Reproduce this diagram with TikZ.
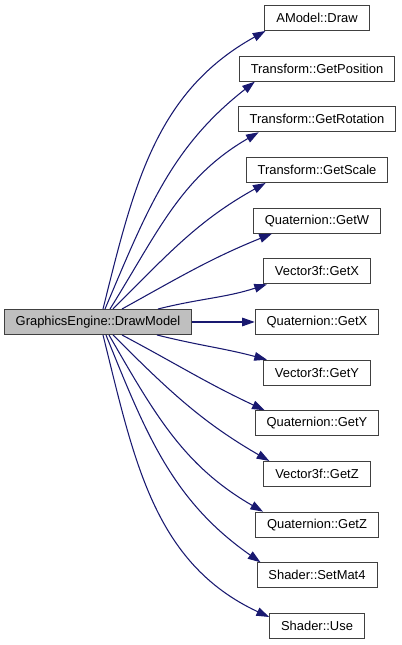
\documentclass[tikz,border=0pt]{standalone}
\usepackage{fontspec}
\setmainfont{Liberation Sans}
\usetikzlibrary{arrows.meta,calc}
\definecolor{midnight}{RGB}{25,25,112}
\definecolor{boxline}{RGB}{64,64,64}
\begin{document}
\begin{tikzpicture}[x=0.75pt,y=0.75pt,
				func/.style={draw=boxline,line width=0.75pt,inner xsep=8.6pt,inner ysep=0pt,
					minimum height=18.75pt,font=\fontsize{9.7}{11.6}\selectfont},
				root/.style={func,fill=black!25},
				call/.style={draw=midnight,line width=0.8pt,
					-{Triangle[length=9.5pt,width=6.5pt,fill=midnight]}}]
				\useasboundingbox (0,0) rectangle (401,645);
				\node[root] (gem) at (98,323) {GraphicsEngine::DrawModel};
				\node[func] (amodeldraw) at (317,627) {AModel::Draw};
				\node[func] (trgetpos) at (317,576.3) {Transform::GetPosition};
				\node[func] (trgetrot) at (317,525.7) {Transform::GetRotation};
				\node[func] (trgetscale) at (317,475) {Transform::GetScale};
				\node[func] (qgetw) at (317,424.3) {Quaternion::GetW};
				\node[func] (vgetx) at (317,373.7) {Vector3f::GetX};
				\node[func] (qgetx) at (317,323) {Quaternion::GetX};
				\node[func] (vgety) at (317,272.3) {Vector3f::GetY};
				\node[func] (qgety) at (317,221.7) {Quaternion::GetY};
				\node[func] (vgetz) at (317,171) {Vector3f::GetZ};
				\node[func] (qgetz) at (317,120.3) {Quaternion::GetZ};
				\node[func] (shsetmat) at (317,69.7) {Shader::SetMat4};
				\node[func] (shuse) at (317,19) {Shader::Use};
				\draw[call] ($(gem.north)+(5,0)$) to[out=76,in=209] ($(amodeldraw.south west)+(1,0)$);
				\draw[call] ($(gem.north)+(7,0)$) to[out=67,in=218] ($(trgetpos.south west)+(16,0)$);
				\draw[call] ($(gem.north)+(12,0)$) to[out=58,in=210] ($(trgetrot.south west)+(21,0)$);
				\draw[call] ($(gem.north)+(15,0)$) to[out=45,in=209] ($(trgetscale.south west)+(20,0)$);
				\draw[call] ($(gem.north)+(24,0)$) to[out=29,in=202] ($(qgetw.south west)+(19,0)$);
				\draw[call] ($(gem.north)+(60,0)$) to[out=14,in=198] ($(vgetx.south west)+(4,0)$);
				\draw[call] (gem.east) -- (qgetx.west);
				\draw[call] ($(gem.south)+(59,0)$) to[out=-14,in=165] ($(vgety.north west)+(4,0)$);
				\draw[call] ($(gem.south)+(24,0)$) to[out=-28,in=155] ($(qgety.north west)+(10,0)$);
				\draw[call] ($(gem.south)+(15,0)$) to[out=-45,in=150] ($(vgetz.north west)+(6,0)$);
				\draw[call] ($(gem.south)+(11,0)$) to[out=-60,in=150] ($(qgetz.north west)+(8,0)$);
				\draw[call] ($(gem.south)+(8,0)$) to[out=-68,in=145] ($(shsetmat.north west)+(4,0)$);
				\draw[call] ($(gem.south)+(5,0)$) to[out=-76,in=155] ($(shuse.north west)+(0,-4)$);
\end{tikzpicture}
\end{document}
